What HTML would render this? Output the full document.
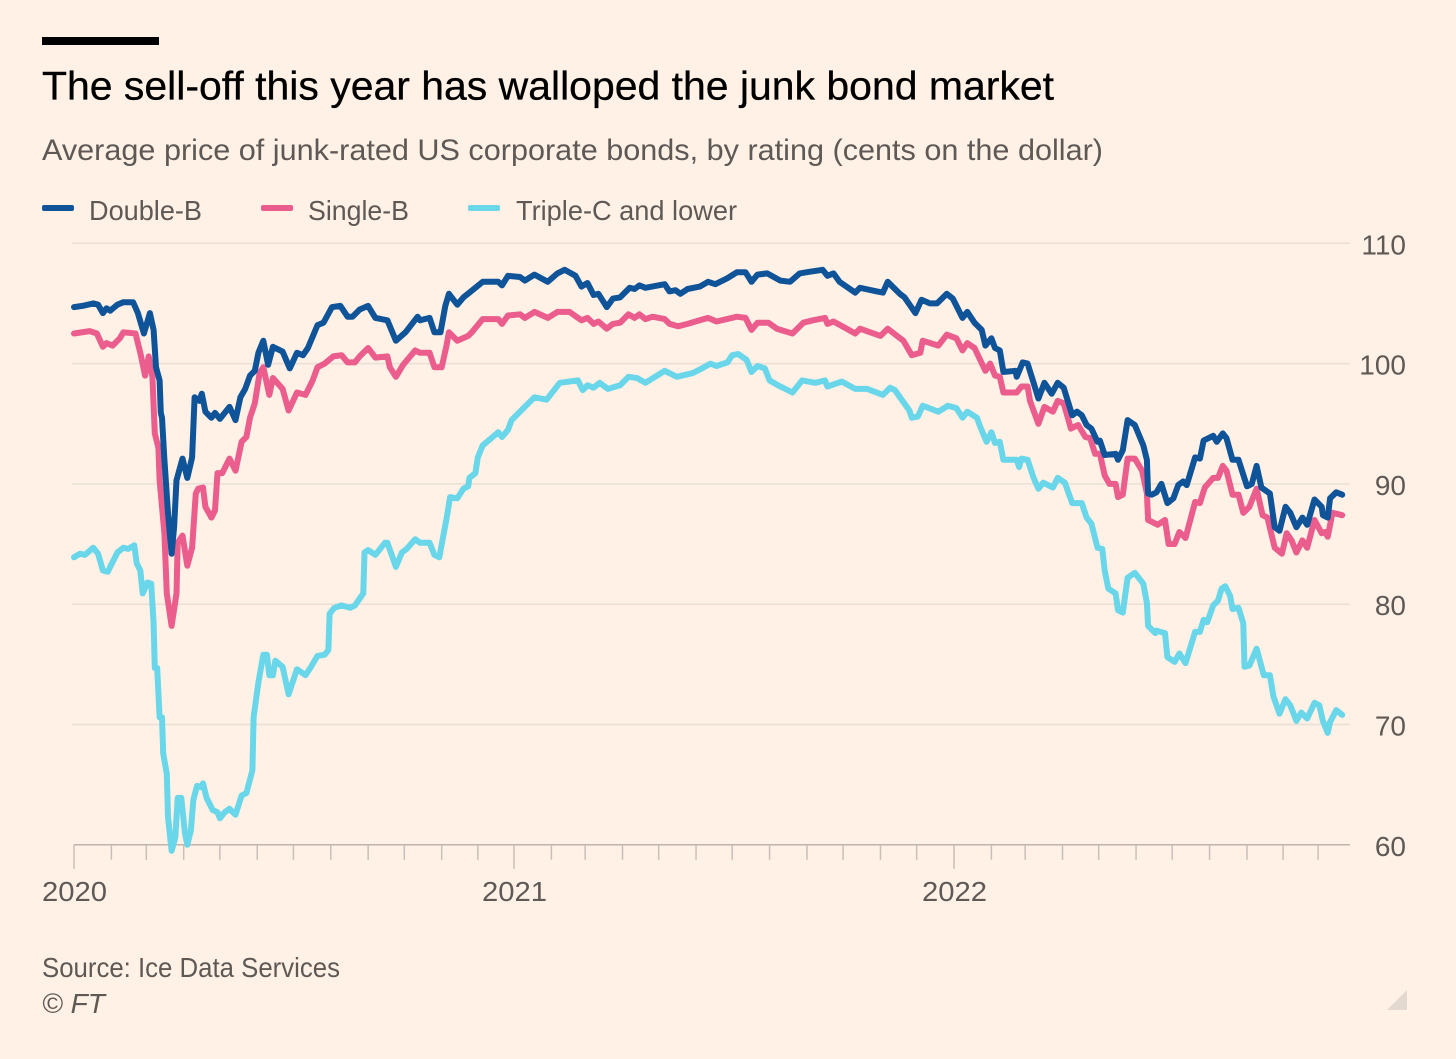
<!DOCTYPE html>
<html lang="en">
<head>
<meta charset="utf-8">
<title>The sell-off this year has walloped the junk bond market</title>
<style>
html,body{margin:0;padding:0;background:#fff1e6;}
svg{display:block;font-family:"Liberation Sans",sans-serif;}
</style>
</head>
<body>
<svg id="chart" xmlns="http://www.w3.org/2000/svg" width="1456" height="1059" viewBox="0 0 1456 1059">
  <rect x="0" y="0" width="1456" height="1059" fill="#fff1e6"/>
  <rect x="42" y="37" width="117" height="8" fill="#000"/>
  <text x="42" y="99.5" font-size="40" fill="#000" stroke="#000" stroke-width="0.3" textLength="1012" lengthAdjust="spacingAndGlyphs">The sell-off this year has walloped the junk bond market</text>
  <text x="42" y="160" font-size="30" fill="#5f5955" textLength="1061" lengthAdjust="spacingAndGlyphs">Average price of junk-rated US corporate bonds, by rating (cents on the dollar)</text>

  <g>
    <g>
      <rect x="42" y="205" width="32" height="6" rx="2" fill="#0f5499"/>
      <text x="89" y="220" font-size="28" fill="#5f5955" textLength="113" lengthAdjust="spacingAndGlyphs">Double-B</text>
    </g>
    <g>
      <rect x="261" y="205" width="32" height="6" rx="2" fill="#ea5d8c"/>
      <text x="308" y="220" font-size="28" fill="#5f5955" textLength="101" lengthAdjust="spacingAndGlyphs">Single-B</text>
    </g>
    <g>
      <rect x="468" y="205" width="32" height="6" rx="2" fill="#6ad6ea"/>
      <text x="516" y="220" font-size="28" fill="#5f5955" textLength="221" lengthAdjust="spacingAndGlyphs">Triple-C and lower</text>
    </g>
  </g>

  <g id="grid"></g>
  <g id="axis-x"></g>
  <g id="axis-y"></g>
  <g id="series"></g>

  <text x="42" y="977" font-size="28" fill="#5f5955" textLength="298" lengthAdjust="spacingAndGlyphs">Source: Ice Data Services</text>
  <text x="42" y="1013" font-size="28" font-style="italic" fill="#5f5955" textLength="63" lengthAdjust="spacingAndGlyphs">© FT</text>
  <polygon points="1387,1010 1407,1010 1407,990" fill="#e4d9d0"/>
</svg>
<script>
// Axis tick data
const yTickValues = [110, 100, 90, 80, 70, 60];
const monthTickDays = [0,31,60,91,121,152,182,213,244,274,305,335,365,396,424,455,485,516,546,577,608,638,669,699,730,761,789,820,850,881,911,942,973,1003,1032];
const yearTickDays = [0, 365, 730];
const yearTickLabels = ['2020', '2021', '2022'];

// Days since the start of 2020, and average price in cents on the dollar
const doubleBDays = [0,7,16,20,24,27,30,36,41,49,53,58,63,66,68,71,72,73,75,78,81,83,85,90,94,98,100,104,106,109,114,117,121,129,134,138,142,146,150,153,157,161,165,173,179,185,190,194,202,207,214,221,227,231,237,244,250,260,267,275,285,287,295,299,304,308,311,318,323,328,339,352,355,360,370,374,382,393,401,407,416,421,426,431,435,442,447,453,461,465,469,474,490,494,499,503,509,519,526,532,542,550,557,562,567,575,586,594,602,608,621,625,630,635,648,652,666,671,675,685,689,698,703,710,716,724,729,737,741,747,753,756,761,764,768,771,781,782,787,791,796,800,805,811,816,821,828,832,836,840,844,849,851,855,864,866,870,874,880,887,890,891,894,898,902,907,912,916,920,923,930,934,937,945,948,953,956,961,966,973,977,981,985,992,996,1000,1005,1009,1014,1019,1023,1029,1035,1036,1040,1042,1047,1052];
const doubleBPrices = [104.7,104.8,105.0,104.9,104.2,104.6,104.4,104.9,105.1,105.1,104.2,102.5,104.2,102.8,99.7,98.6,95.9,95.5,92.0,87.6,84.2,86.4,90.3,92.1,90.5,92.2,97.2,96.9,97.5,96.0,95.5,95.9,95.4,96.4,95.3,97.2,97.9,99.0,99.4,100.9,101.9,99.9,101.4,101.0,99.6,100.9,100.7,101.3,103.2,103.4,104.7,104.8,103.9,103.9,104.5,104.8,103.8,103.6,101.9,102.6,103.9,103.6,103.8,102.6,102.6,104.8,105.8,104.9,105.5,105.9,106.8,106.8,106.5,107.3,107.2,106.9,107.4,106.8,107.5,107.8,107.3,106.4,106.7,105.7,105.8,104.7,105.4,105.5,106.3,106.2,106.5,106.3,106.6,106.0,106.1,105.8,106.2,106.4,106.8,106.6,107.1,107.6,107.6,106.8,107.4,107.5,106.9,106.8,107.5,107.6,107.8,107.3,107.5,106.8,105.9,106.3,106.0,105.9,106.8,105.8,105.5,104.2,105.3,105.0,105.0,105.8,105.4,103.8,104.3,103.4,102.8,101.5,102.1,101.3,101.1,99.3,99.4,98.9,100.1,100.0,98.4,97.1,98.4,97.5,98.4,98.0,95.7,96.0,95.7,94.9,94.6,93.5,93.6,92.4,92.5,92.0,92.8,95.3,94.9,93.2,92.0,89.2,89.1,89.3,90.0,88.4,88.8,89.9,90.2,89.9,92.2,92.1,93.6,94.0,93.5,94.2,93.8,92.0,92.0,89.8,90.0,91.5,89.7,89.2,86.4,86.1,88.1,87.6,86.4,87.2,86.6,88.7,88.1,87.4,87.2,88.8,89.3,89.1];

const singleBDays = [0,13,19,24,27,32,38,41,51,55,59,62,65,67,70,71,75,77,81,85,86,90,94,98,101,103,107,109,114,117,119,123,129,134,139,143,146,150,154,157,162,165,173,178,185,192,198,202,208,215,222,227,233,237,244,250,260,262,267,273,283,287,295,299,305,309,311,318,327,330,339,352,355,360,370,374,382,393,401,411,421,426,431,435,442,447,453,460,465,469,474,480,490,494,501,509,519,526,533,550,557,562,567,576,583,596,605,613,623,625,630,641,648,652,669,675,688,695,702,704,717,724,732,737,741,747,756,760,764,768,771,782,786,791,793,800,805,812,816,821,827,833,839,843,847,851,855,859,864,866,870,874,880,886,890,891,897,899,905,908,913,917,922,930,934,938,945,949,953,956,961,966,970,975,981,986,990,996,1002,1006,1010,1014,1019,1023,1029,1035,1038,1040,1044,1052];
const singleBPrices = [102.5,102.7,102.5,101.4,101.7,101.5,102.1,102.6,102.5,100.9,99.0,100.6,98.9,94.2,93.0,90.3,85.9,80.9,78.2,80.9,85.1,85.7,83.2,84.7,89.2,89.6,89.7,88.1,87.2,87.8,90.9,90.9,92.1,91.1,93.5,93.9,95.5,96.7,99.2,99.7,97.4,98.8,97.9,96.1,97.6,97.4,98.6,99.7,100.0,100.6,100.7,100.1,100.1,100.6,101.3,100.5,100.6,99.7,98.9,99.9,101.1,100.9,100.9,99.7,99.7,101.5,102.6,101.9,102.3,102.6,103.7,103.7,103.3,104.0,104.1,103.8,104.3,103.8,104.3,104.3,103.6,103.8,103.3,103.5,102.9,103.3,103.4,104.1,103.8,104.1,103.7,103.9,103.7,103.3,103.1,103.3,103.6,103.8,103.5,103.9,103.8,102.8,103.4,103.4,102.9,102.5,103.4,103.6,103.8,103.3,103.5,102.9,102.5,102.9,102.3,102.9,101.9,100.7,100.9,101.9,101.5,102.4,102.1,101.1,101.7,101.3,99.4,100.0,99.0,98.9,97.6,97.6,98.1,98.1,96.9,95.0,96.4,96.0,96.9,96.7,94.6,94.9,93.9,93.8,92.5,92.5,90.7,90.0,90.0,88.9,89.1,92.1,92.1,91.1,89.2,87.0,86.7,86.6,87.0,85.0,85.0,86.0,85.5,88.5,88.4,89.7,90.5,90.5,91.5,91.1,89.1,89.1,87.6,88.1,89.6,87.4,87.2,84.7,84.2,85.9,85.3,84.3,85.3,84.7,87.0,85.9,86.0,85.6,87.6,87.4];

const tripleCDays = [0,5,9,16,20,24,28,36,41,45,50,52,55,57,61,64,66,67,69,71,73,74,77,78,81,84,86,89,92,94,97,99,102,105,107,110,115,119,121,125,129,134,139,143,148,149,153,157,160,162,165,167,173,178,181,185,192,196,202,208,211,212,216,222,229,233,240,241,244,250,258,260,267,272,276,283,287,295,299,303,306,309,312,318,323,327,328,333,335,339,352,355,360,363,372,382,392,403,418,422,426,431,436,443,453,460,467,474,490,500,513,519,528,533,542,546,551,558,562,567,573,577,584,596,604,615,623,625,637,648,658,671,677,681,693,695,700,704,717,725,732,737,741,749,752,757,761,764,768,771,782,784,786,791,796,800,804,812,816,822,828,836,840,844,849,853,855,858,864,866,870,874,880,887,890,891,893,897,898,905,907,913,917,922,930,934,937,940,945,949,952,955,959,961,966,970,971,975,981,987,992,995,1000,1005,1009,1014,1018,1023,1029,1033,1036,1040,1042,1047,1052];
const tripleCPrices = [83.9,84.2,84.1,84.7,84.2,82.8,82.7,84.3,84.7,84.6,84.9,83.4,82.8,80.9,81.8,81.7,78.4,74.7,74.7,70.6,70.6,67.6,65.9,62.3,59.5,60.6,63.9,63.9,61.0,60.0,61.2,63.7,64.9,64.8,65.1,63.9,62.9,62.7,62.2,62.7,63.0,62.5,64.1,64.3,66.2,70.6,73.5,75.8,75.8,74.1,74.1,75.3,74.8,72.5,73.4,74.6,74.1,74.7,75.7,75.8,76.2,79.2,79.7,79.9,79.7,79.9,80.9,84.3,84.5,84.1,85.1,85.1,83.1,84.3,84.6,85.4,85.1,85.1,84.1,83.9,85.5,87.1,88.9,88.8,89.6,89.8,90.5,90.9,92.2,93.2,94.3,93.9,94.5,95.3,96.2,97.2,97.0,98.4,98.6,97.8,98.2,98.0,98.4,97.9,98.2,98.9,98.8,98.4,99.4,98.9,99.2,99.5,100.0,99.8,100.1,100.7,100.8,100.3,99.3,99.8,99.6,98.6,98.2,97.6,98.6,98.4,98.6,98.1,98.5,97.9,97.9,97.4,98.0,97.8,96.1,95.5,95.6,96.5,96.0,96.5,96.3,95.5,96.0,95.5,94.7,93.5,94.3,93.4,93.5,92.0,92.0,91.4,92.1,92.0,90.5,89.6,90.1,89.7,90.5,90.1,88.4,88.4,87.2,86.7,84.7,84.6,82.8,81.3,80.9,79.5,79.3,82.2,82.6,81.7,80.1,78.2,78.0,77.6,77.8,77.6,75.6,75.2,75.9,75.1,77.7,77.7,78.7,78.5,79.9,80.3,81.3,81.5,80.7,79.6,79.7,78.4,74.8,74.9,76.3,74.1,74.1,72.3,70.9,72.1,71.6,70.3,71.0,70.5,71.8,71.6,70.3,69.3,70.2,71.2,70.8];

const SVG_NS = 'http://www.w3.org/2000/svg';
function xScale(day) { return 74 + day * 1.2055; }
function yScale(value) { return 243.3 + (110 - value) * 12.03; }

function svgEl(tag, attrs) {
  const el = document.createElementNS(SVG_NS, tag);
  Object.keys(attrs).forEach(function (k) { el.setAttribute(k, attrs[k]); });
  return el;
}

const gridGroup = document.getElementById('grid');
const axisY = document.getElementById('axis-y');
yTickValues.forEach(function (value) {
  const y = yScale(value);
  const isBase = value === yTickValues[yTickValues.length - 1];
  const line = svgEl('line', { x1: isBase ? 74 : 72, x2: 1350, y1: y, y2: y, stroke: isBase ? '#bdb4ad' : '#e8dfd7', 'stroke-width': 1.5 });
  
  
  gridGroup.appendChild(line);
  const label = svgEl('text', { x: 1406, y: y + 11, 'font-size': 28, fill: '#5f5955', 'text-anchor': 'end' });
  label.textContent = String(value);
  
  
  axisY.appendChild(label);
});

const axisX = document.getElementById('axis-x');
monthTickDays.forEach(function (day) {
  const x = xScale(day);
  const isYear = yearTickDays.indexOf(day) !== -1;
  const tick = svgEl('line', { x1: x, x2: x, y1: yScale(60), y2: yScale(60) + (isYear ? 24 : 15), stroke: '#c8bfb8', 'stroke-width': 1.5 });
  
  
  axisX.appendChild(tick);
});
yearTickDays.forEach(function (day, i) {
  const label = svgEl('text', { x: xScale(day) - 32, y: 901, 'font-size': 28, fill: '#5f5955', textLength: 65, lengthAdjust: 'spacingAndGlyphs' });
  label.textContent = yearTickLabels[i];
  
  
  axisX.appendChild(label);
});

function drawSeries(days, prices, color, name) {
  const points = days.map(function (day, i) {
    return xScale(day).toFixed(1) + ',' + yScale(prices[i]).toFixed(1);
  }).join(' ');
  const line = svgEl('polyline', { points: points, fill: 'none', stroke: color, 'stroke-width': 6, 'stroke-linejoin': 'round', 'stroke-linecap': 'round' });
  
  
  document.getElementById('series').appendChild(line);
}
drawSeries(tripleCDays, tripleCPrices, '#6ad6ea', 'line-triple-c-and-lower');
drawSeries(singleBDays, singleBPrices, '#ea5d8c', 'line-single-b');
drawSeries(doubleBDays, doubleBPrices, '#0f5499', 'line-double-b');
</script>
</body>
</html>
